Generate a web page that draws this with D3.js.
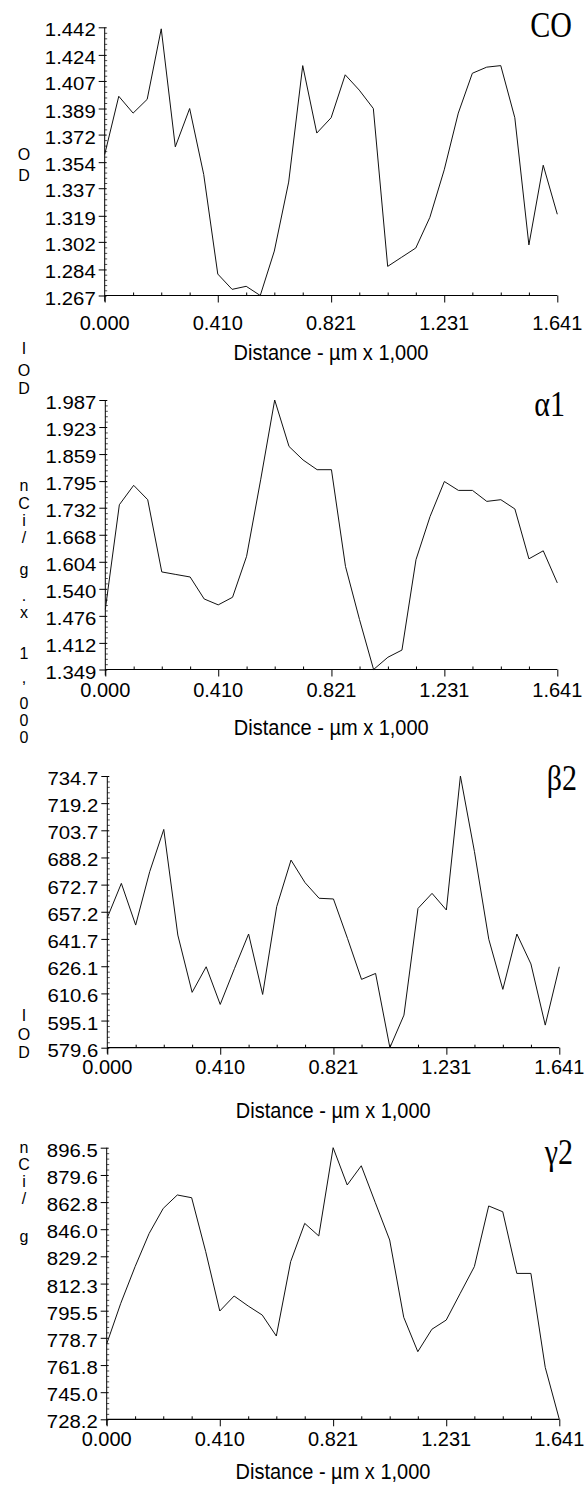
<!DOCTYPE html>
<html>
<head>
<meta charset="utf-8">
<script src="https://cdn.jsdelivr.net/npm/d3@7"></script>
<style>
  html, body { margin: 0; padding: 0; background: #fff; }
  svg { display: block; }
</style>
</head>
<body>
<svg id="chart" width="588" height="1490"></svg>
<script>
// ---------------- DATA ----------------
const distance = [0.000, 0.051, 0.103, 0.154, 0.205, 0.256, 0.308, 0.359, 0.410, 0.462, 0.513,
  0.564, 0.615, 0.667, 0.718, 0.769, 0.821, 0.872, 0.923, 0.974, 1.026, 1.077, 1.128, 1.179,
  1.231, 1.282, 1.333, 1.385, 1.436, 1.487, 1.538, 1.590, 1.641];

const xTickLabels = ["0.000", "0.410", "0.821", "1.231", "1.641"];
const xTitle = "Distance - µm x 1,000";

const coValues = [1.359, 1.397, 1.386, 1.395, 1.441, 1.364, 1.389, 1.346, 1.281, 1.271, 1.273,
  1.267, 1.296, 1.341, 1.417, 1.373, 1.383, 1.411, 1.401, 1.389, 1.286, 1.292, 1.298, 1.318,
  1.349, 1.386, 1.412, 1.416, 1.417, 1.383, 1.300, 1.352, 1.320];
const coTicks = ["1.442", "1.424", "1.407", "1.389", "1.372", "1.354", "1.337", "1.319", "1.302", "1.284", "1.267"];

const alpha1Values = [1.491, 1.739, 1.785, 1.751, 1.580, 1.574, 1.568, 1.516, 1.502, 1.520, 1.617,
  1.798, 1.987, 1.877, 1.845, 1.822, 1.822, 1.593, 1.467, 1.349, 1.378, 1.395, 1.609, 1.711,
  1.794, 1.773, 1.773, 1.747, 1.751, 1.729, 1.611, 1.630, 1.554];
const alpha1Ticks = ["1.987", "1.923", "1.859", "1.795", "1.732", "1.668", "1.604", "1.540", "1.476", "1.412", "1.349"];

const beta2Values = [653.8, 673.4, 649.6, 680.1, 704.2, 643.9, 611.2, 625.8, 604.3, 624.9, 644.5,
  610.0, 660.1, 686.7, 673.8, 664.9, 664.5, 642.0, 618.6, 622.0, 579.6, 598.2, 659.1, 667.7,
  658.2, 734.7, 691.5, 641.5, 612.9, 644.5, 627.4, 592.5, 625.8];
const beta2Ticks = ["734.7", "719.2", "703.7", "688.2", "672.7", "657.2", "641.7", "626.1", "610.6", "595.1", "579.6"];

const gamma2Values = [774.9, 800.1, 822.8, 843.4, 858.9, 867.2, 865.5, 832.1, 795.3, 804.6, 798.4,
  792.8, 779.8, 825.9, 849.6, 841.8, 896.5, 873.4, 885.3, 862.4, 839.3, 791.4, 770.1, 784.0,
  789.7, 806.3, 822.8, 860.4, 856.8, 818.6, 818.6, 760.4, 728.2];
const gamma2Ticks = ["896.5", "879.6", "862.8", "846.0", "829.2", "812.3", "795.5", "778.7", "761.8", "745.0", "728.2"];

const panelNames = ["CO", "α1", "β2", "γ2"];

// stacked (vertical) axis captions, one string per caption
const sideCaptions = ["OD", "IOD", "nCi/g.x1,000", "IOD", "nCi/g"];

// ---------------- LAYOUT ----------------
const panels = [
  { name: panelNames[0], values: coValues, ticks: coTicks,
    x0: 104.7, x1: 557.3, yTop: 27.3, yBot: 295.5,
    tickLabelY: 330, titleY: 360, nameX: 572, nameY: 37 },
  { name: panelNames[1], values: alpha1Values, ticks: alpha1Ticks,
    x0: 105.3, x1: 557.3, yTop: 400, yBot: 669.5,
    tickLabelY: 697, titleY: 735, nameX: 565, nameY: 416 },
  { name: panelNames[2], values: beta2Values, ticks: beta2Ticks,
    x0: 107.3, x1: 559.3, yTop: 776, yBot: 1047.7,
    tickLabelY: 1074, titleY: 1118, nameX: 577, nameY: 790 },
  { name: panelNames[3], values: gamma2Values, ticks: gamma2Ticks,
    x0: 106.7, x1: 559.3, yTop: 1147.7, yBot: 1419.3,
    tickLabelY: 1446, titleY: 1479, nameX: 573, nameY: 1164 }
];

// y centers of each stacked letter, per caption
const sideLetterY = [
  [154, 175],
  [348, 370, 388],
  [485, 503, 520, 537, 569, 595, 612, 653, 677, 703, 720, 737],
  [1015, 1034, 1052],
  [1147, 1164, 1181, 1198, 1236]
];

const sans = "'Liberation Sans', Arial, Helvetica, sans-serif";
const serif = "'Liberation Serif', 'Times New Roman', Times, serif";

const svg = d3.select("#chart");

panels.forEach(p => {
  const g = svg.append("g");
  const x = d3.scaleLinear().domain([distance[0], distance[distance.length - 1]]).range([p.x0, p.x1]);
  const tickNums = p.ticks.map(Number);
  const y = d3.scaleLinear().domain([d3.min(tickNums), d3.max(tickNums)]).range([p.yBot, p.yTop]);

  // ---- y axis ----
  const yMajor = d3.axisLeft(y).tickValues(tickNums).tickSize(6).tickFormat("");
  const ya = g.append("g").attr("transform", `translate(${p.x0},0)`).call(yMajor);
  ya.select(".domain").remove();
  ya.selectAll("line").attr("stroke", "#000").attr("stroke-width", 1);

  const yMajR = d3.axisRight(y).tickValues(tickNums).tickSize(2).tickFormat("");
  const yr = g.append("g").attr("transform", `translate(${p.x0},0)`).call(yMajR);
  yr.select(".domain").remove();
  yr.selectAll("line").attr("stroke", "#000");

  const minorY = [];
  for (let k = 0; k < tickNums.length - 1; k++) {
    const a = tickNums[k + 1], b = tickNums[k];
    for (let m = 1; m < 5; m++) minorY.push(a + (b - a) * m / 5);
  }
  const yMin = d3.axisRight(y).tickValues(minorY).tickSize(2.5).tickFormat("");
  const ym = g.append("g").attr("transform", `translate(${p.x0},0)`).call(yMin);
  ym.select(".domain").remove();
  ym.selectAll("line").attr("stroke", "#222").attr("stroke-width", 0.8);

  g.append("line").attr("x1", p.x0).attr("x2", p.x0).attr("y1", p.yTop).attr("y2", p.yBot + 6)
    .attr("stroke", "#000").attr("stroke-width", 1);

  // y tick labels
  p.ticks.forEach((t, k) => {
    g.append("text")
      .attr("transform", `translate(${p.x0 - 9},${y(tickNums[k]) + 9}) scale(1.13,1)`)
      .attr("text-anchor", "end")
      .attr("font-family", sans).attr("font-size", 18).attr("fill", "#000")
      .text(t);
  });

  // ---- x axis ----
  const xNums = xTickLabels.map(Number);
  const xMajor = d3.axisBottom(x).tickValues(xNums).tickSize(7).tickFormat("");
  const xa = g.append("g").attr("transform", `translate(0,${p.yBot})`).call(xMajor);
  xa.select(".domain").remove();
  xa.selectAll("line").attr("stroke", "#000");

  const minorX = distance.filter((d, i) => i % 2 === 0 && i % 8 !== 0);
  const xMin = d3.axisTop(x).tickValues(minorX).tickSize(3).tickFormat("");
  const xm = g.append("g").attr("transform", `translate(0,${p.yBot})`).call(xMin);
  xm.select(".domain").remove();
  xm.selectAll("line").attr("stroke", "#000");

  g.append("line").attr("x1", p.x0).attr("x2", p.x1).attr("y1", p.yBot).attr("y2", p.yBot)
    .attr("stroke", "#000").attr("stroke-width", 1.2);

  xTickLabels.forEach((t, k) => {
    g.append("text")
      .attr("x", x(xNums[k])).attr("y", p.tickLabelY)
      .attr("text-anchor", "middle")
      .attr("font-family", sans).attr("font-size", 20).attr("fill", "#000")
      .text(t);
  });

  g.append("text")
    .attr("transform", `translate(${(p.x0 + p.x1) / 2},${p.titleY}) scale(1,1.1)`)
    .attr("text-anchor", "middle")
    .attr("font-family", sans).attr("font-size", 20).attr("fill", "#000")
    .text(xTitle);

  // ---- data line ----
  const line = d3.line().x((d, i) => x(distance[i])).y(d => y(d));
  g.append("path").datum(p.values)
    .attr("d", line)
    .attr("fill", "none").attr("stroke", "#111").attr("stroke-width", 1)
    .attr("stroke-linejoin", "miter");

  // ---- panel name ----
  g.append("text")
    .attr("transform", `translate(${p.nameX},${p.nameY}) scale(1,1.2)`)
    .attr("text-anchor", "end")
    .attr("font-family", serif).attr("font-size", 30).attr("fill", "#000")
    .text(p.name);
});

// stacked side captions: one text element each, letters as tspans
sideCaptions.forEach((cap, ci) => {
  const t = svg.append("text")
    .attr("font-family", sans).attr("font-size", 16).attr("fill", "#000")
    .attr("text-anchor", "middle");
  Array.from(cap).forEach((ch, li) => {
    t.append("tspan")
      .attr("x", 24).attr("y", sideLetterY[ci][li] + 6)
      .text(ch);
  });
});
</script>
</body>
</html>
